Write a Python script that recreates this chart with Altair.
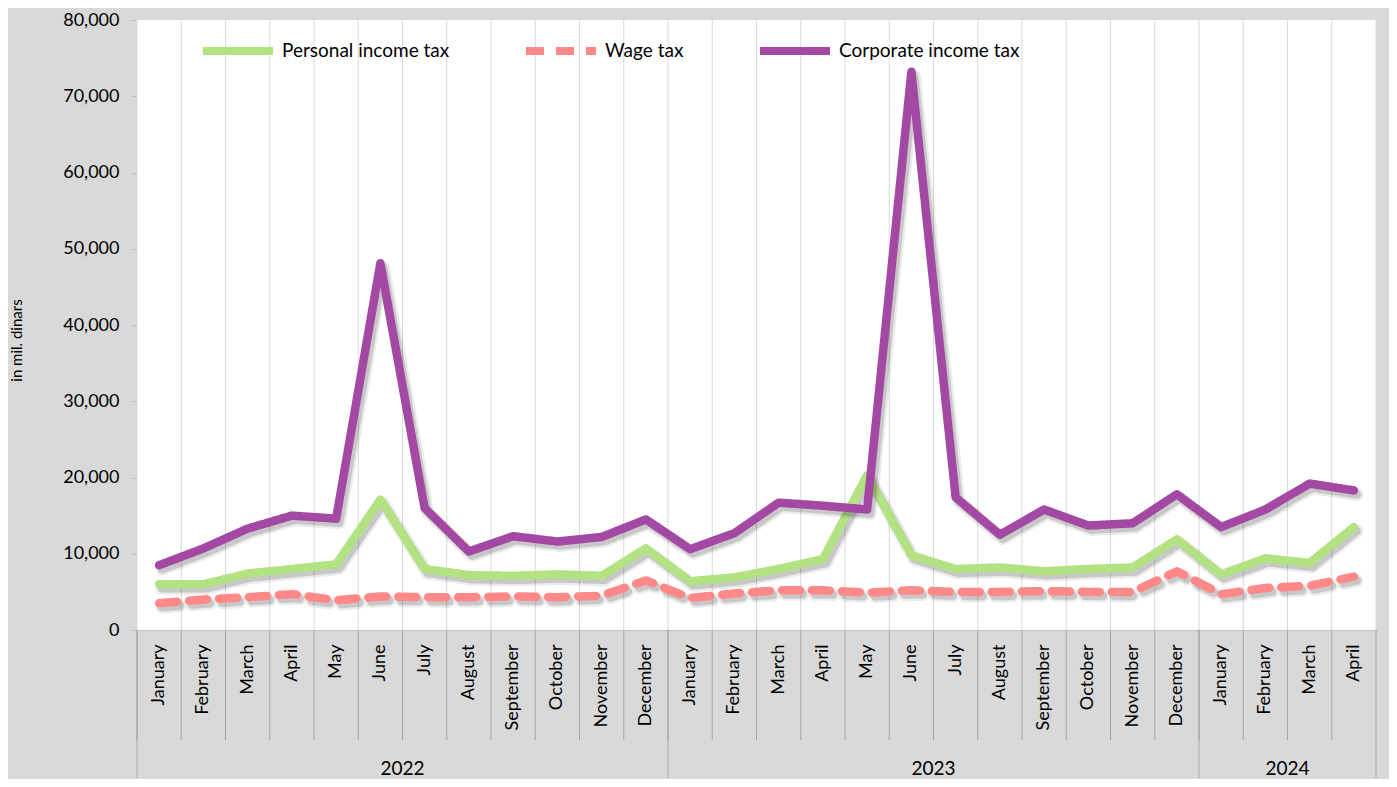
import altair as alt
import pandas as pd

month_names = ["January", "February", "March", "April", "May", "June", "July",
               "August", "September", "October", "November", "December"]
years = [2022] * 12 + [2023] * 12 + [2024] * 4
months = month_names * 2 + month_names[:4]

personal = [6000, 6000, 7400, 8000, 8600, 17100, 8000, 7200, 7100, 7300, 7100, 10700,
            6400, 6900, 8000, 9300, 20300, 9800, 8000, 8200, 7700, 8000, 8200, 11900,
            7300, 9400, 8800, 13500]
wage = [3500, 4000, 4300, 4700, 3900, 4400, 4300, 4300, 4400, 4300, 4500, 6500,
        4200, 4800, 5200, 5200, 4900, 5200, 5000, 5000, 5100, 5000, 5000, 7700,
        4700, 5500, 5800, 7000]
corporate = [8500, 10700, 13300, 15000, 14600, 48100, 16000, 10300, 12300, 11600, 12200, 14500,
             10600, 12700, 16700, 16300, 15800, 73200, 17400, 12500, 15800, 13700, 14000, 17800,
             13500, 15800, 19200, 18300]

series_names = ["Personal income tax", "Wage tax", "Corporate income tax"]
series_colors = ["#b3e283", "#ff8888", "#a349a4"]
series_dash = [[1, 0], [18, 12], [1, 0]]
y_ticks = [0, 10000, 20000, 30000, 40000, 50000, 60000, 70000, 80000]

keys = [f"{y}|{m}" for y, m in zip(years, months)]

rows = []
for name, vals in zip(series_names, [personal, wage, corporate]):
    for k, v in zip(keys, vals):
        rows.append({"key": k, "series": name, "value": v})
df = pd.DataFrame(rows)
df_keys = pd.DataFrame({"key": keys})
df_end = pd.DataFrame({"key": [keys[-1]]})
year_starts = pd.DataFrame({"key": ["2022|January", "2023|January", "2024|January"]})
year_labels = pd.DataFrame({"key": ["2022|June", "2023|June", "2024|February"],
                            "year": ["2022", "2023", "2024"]})

W, H = 1239, 610
FONT = "Lato"
SEP = "#a6a6a6"

x_axis = alt.Axis(title=None, labelAngle=-90, labelAlign="right", labelBaseline="middle",
                  labelExpr="split(datum.value,'|')[1]", ticks=False, grid=False,
                  domainColor="#bfbfbf", labelPadding=14, labelFontSize=18,
                  labelFont=FONT, labelColor="black")
x_scale = alt.Scale(paddingInner=0, paddingOuter=0)


def xenc(bp=None):
    if bp is None:
        return alt.X("key:N", sort=keys, scale=x_scale, axis=x_axis)
    return alt.X("key:N", sort=keys, scale=x_scale, axis=x_axis, bandPosition=bp)


y_enc = alt.Y("value:Q", scale=alt.Scale(domain=[0, 80000], nice=False),
              axis=alt.Axis(values=y_ticks, format=",.0f", title="in mil. dinars",
                            titleFontSize=15, titleFont=FONT, titleFontWeight="normal",
                            titleColor="black", titlePadding=38, titleY=320,
                            gridDash=[3, 3], gridColor="#d9d9d9",
                            domainColor="#bfbfbf", tickColor="#bfbfbf", tickSize=6,
                            labelPadding=12, labelFontSize=18, labelFont=FONT,
                            labelColor="black"))

# white plot background
plot_bg = alt.Chart(df_end).mark_rect(color="white").encode(
    x=alt.value(0), x2=alt.value(W), y=alt.value(0), y2=alt.value(H))
# vertical separators inside plot
grid_v = alt.Chart(df_keys).mark_rule(color="#d9d9d9", strokeWidth=1).encode(
    x=xenc(0), y=alt.value(0), y2=alt.value(H))
grid_end = alt.Chart(df_end).mark_rule(color="#d9d9d9", strokeWidth=1).encode(
    x=xenc(1), y=alt.value(0), y2=alt.value(H))
# month label separators
sep_m = alt.Chart(df_keys).mark_rule(color=SEP, strokeWidth=1).encode(
    x=xenc(0), y=alt.value(H), y2=alt.value(H + 110))
# year separators
sep_y = alt.Chart(year_starts).mark_rule(color=SEP, strokeWidth=1).encode(
    x=xenc(0), y=alt.value(H), y2=alt.value(H + 148))
sep_yend = alt.Chart(df_end).mark_rule(color=SEP, strokeWidth=1).encode(
    x=xenc(1), y=alt.value(H), y2=alt.value(H + 148))
year_text = alt.Chart(year_labels).mark_text(fontSize=19, font=FONT, color="black",
                                             baseline="middle").encode(
    x=xenc(1), y=alt.value(H + 139), text="year:N")

legend_def = alt.Legend(title=None, orient="none", direction="horizontal",
                        legendX=62, legendY=-8, symbolType="stroke",
                        symbolSize=4900, symbolStrokeWidth=8,
                        labelFontSize=19, labelFont=FONT, labelColor="black",
                        labelLimit=400, columnPadding=60, labelOffset=5)
color_enc = alt.Color("series:N", scale=alt.Scale(domain=series_names, range=series_colors),
                      legend=legend_def)
dash_enc = alt.StrokeDash("series:N", scale=alt.Scale(domain=series_names, range=series_dash),
                          legend=legend_def)

layers = [plot_bg, grid_v, grid_end, sep_m, sep_y, sep_yend, year_text]
for name, dash in zip(series_names, series_dash):
    sub = alt.Chart(df).transform_filter(alt.datum.series == name)
    layers.append(sub.mark_line(color="black", opacity=0.08, strokeWidth=13,
                                strokeCap="round", strokeJoin="round", strokeDash=dash,
                                xOffset=3, yOffset=4).encode(x=xenc(), y=y_enc))
    layers.append(sub.mark_line(color="black", opacity=0.15, strokeWidth=8.5,
                                strokeCap="round", strokeJoin="round", strokeDash=dash,
                                xOffset=3, yOffset=4).encode(x=xenc(), y=y_enc))
    layers.append(sub.mark_line(strokeWidth=8.5, strokeCap="round", strokeJoin="round").encode(
        x=xenc(), y=y_enc, color=color_enc, strokeDash=dash_enc))

chart = alt.layer(*layers).properties(
    width=W, height=H,
    autosize=alt.AutoSizeParams(type="none"),
    padding={"left": 129, "top": 12, "right": 13, "bottom": 149},
    background="#d9d9d9",
).configure_view(strokeWidth=0).configure(font=FONT)

chart.save("out.html", embed_options={"renderer": "svg", "actions": False})
